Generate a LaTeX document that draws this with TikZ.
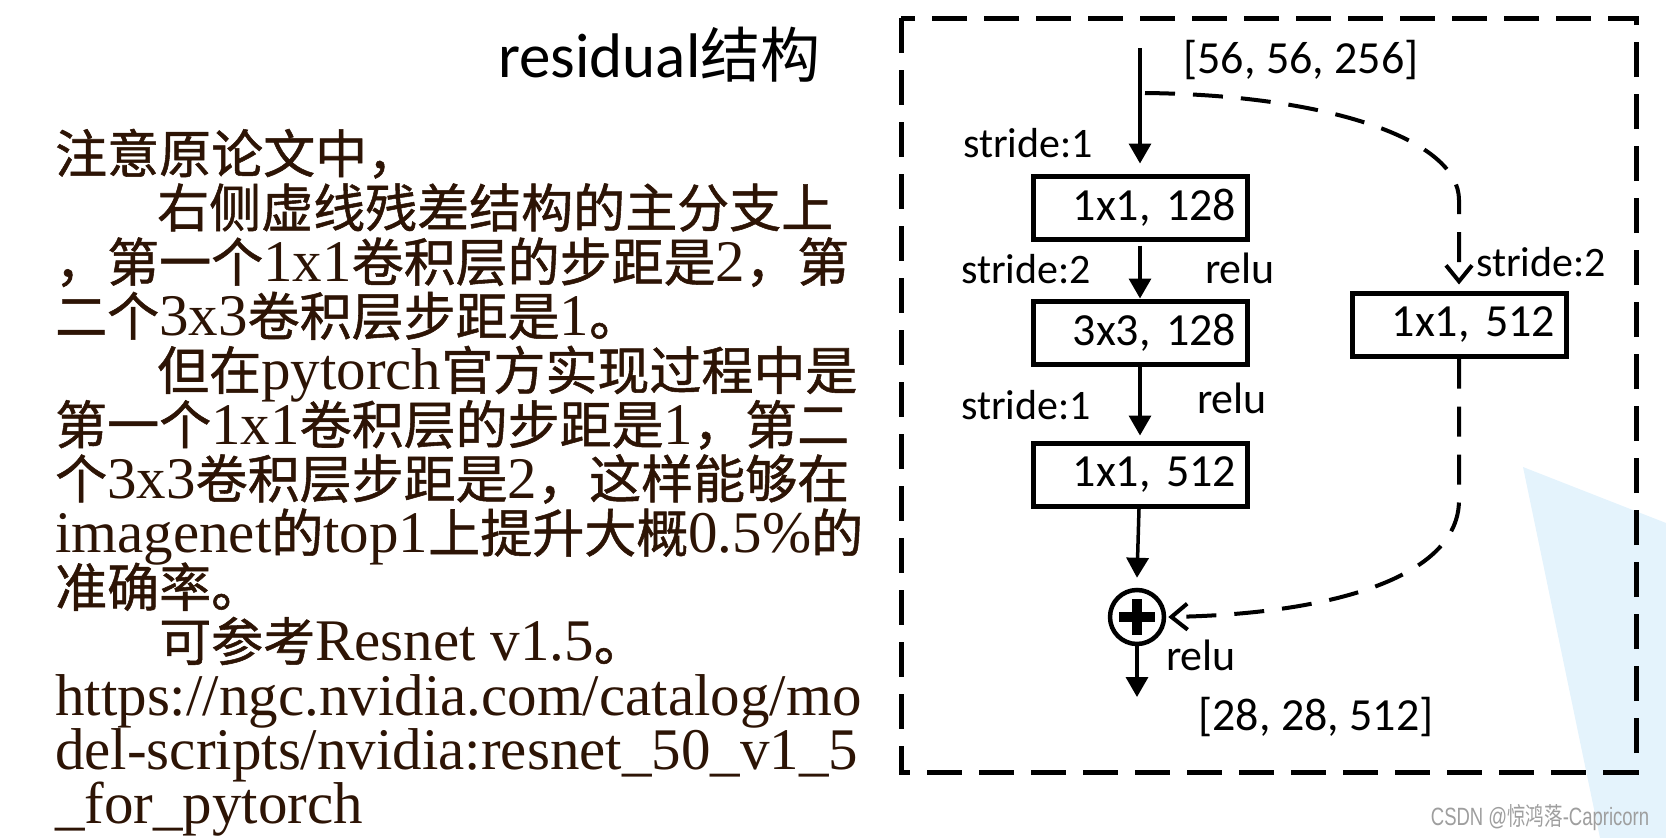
\documentclass[tikz,border=0pt]{standalone}
\usepackage{fontspec}
\setmainfont{Liberation Serif}
\newfontfamily\cjk{Noto Sans CJK SC}
\newfontfamily\cjknote[FakeBold=1]{Noto Sans CJK SC}
\newfontfamily\cali{Carlito}
\newfontfamily\arial{Liberation Sans}
\usetikzlibrary{arrows.meta, positioning}
\definecolor{inkbrown}{RGB}{45,20,5}
\definecolor{paleblue}{RGB}{228,243,252}
\newcommand{\zh}[1]{{\cjknote\fontsize{52}{54}\selectfont #1}}

\begin{document}
\begin{tikzpicture}[
	x=1pt, y=-1pt,
	font=\cali\fontsize{42}{46}\selectfont,
	>={Triangle[length=20pt,width=22pt]},
	conv/.style={draw, line width=5pt, minimum height=63pt, text width=192pt, inner xsep=11pt, align=right, font=\cali\fontsize{46}{50}\selectfont},
	flow/.style={->, line width=3.5pt},
	shortcut/.style={line width=4pt, dash pattern=on 30pt off 18pt, -{Straight Barb[length=16pt,width=26pt]}},
	dims/.style={font=\cali\fontsize{46}{50}\selectfont},
	act/.style={font=\cali\fontsize{44}{48}\selectfont},
	note/.style={anchor=base west, inner sep=0pt, text=inkbrown, font=\fontsize{59}{54}\selectfont}
	]
	
	\useasboundingbox (0,0) rectangle (1666,838);
	
	% --------------------------------------------------
	% background
	% --------------------------------------------------
	\fill[paleblue] (1523,467) -- (1666,523) -- (1666,838) -- (1600,838) -- cycle;
	
	% ==================================================
	% Left: title and notes
	% ==================================================
	\node[anchor=base west, inner sep=0pt, font=\cali\fontsize{63}{66}\selectfont] (title) at (498,77)
	{residual{\cjk\fontsize{60}{66}\selectfont 结构}};
	
	\node[note] (l1)  at (55,173)   {\zh{注意原论文中，}};
	\node[note] (l2)  at (157,227.2) {\zh{右侧虚线残差结构的主分支上}};
	\node[note] (l3)  at (55,281.4) {\zh{，第一个}1x1\zh{卷积层的步距是}2\zh{，第}};
	\node[note] (l4)  at (55,335.6) {\zh{二个}3x3\zh{卷积层步距是}1\zh{。}};
	\node[note] (l5)  at (157,389.8) {\zh{但在}pytorch\zh{官方实现过程中是}};
	\node[note] (l6)  at (55,444)   {\zh{第一个}1x1\zh{卷积层的步距是}1\zh{，第二}};
	\node[note] (l7)  at (55,498.2) {\zh{个}3x3\zh{卷积层步距是}2\zh{，这样能够在}};
	\node[note] (l8)  at (55,552.4) {imagenet\zh{的}top1\zh{上提升大概}0.5\%\zh{的}};
	\node[note] (l9)  at (55,606.6) {\zh{准确率。}};
	\node[note] (l10) at (159,660.8) {\zh{可参考}Resnet v1.5\zh{。}};
	\node[note] (l11) at (55,715)   {https://ngc.nvidia.com/catalog/mo};
	\node[note] (l12) at (55,769.2) {del-scripts/nvidia:resnet\_50\_v1\_5};
	\node[note] (l13) at (55,823.4) {\_for\_pytorch};
	
	% ==================================================
	% Right: bottleneck block with projection shortcut
	% ==================================================
	\draw[line width=5pt, dash pattern=on 35pt off 17pt] (901,18) rectangle (1636,772);
	
	\coordinate (in)    at (1140,48);
	\coordinate (split) at (1145,93);
	\coordinate (out)   at (1137,697);
	
	\node[conv] (b1)   at (1140,207.5) {1x1, 128};
	\node[conv] (b2)   at (1140,332.5) {3x3, 128};
	\node[conv] (b3)   at (1140,474.5) {1x1, 512};
	\node[conv] (side) at (1459,324.5) {1x1, 512};
	
	\node[draw, circle, line width=4.5pt, minimum size=54pt, inner sep=0pt] (add) at (1137,617) {};
	\draw[line width=10pt] ([xshift=-18pt]add.center) -- ([xshift=18pt]add.center);
	\draw[line width=10pt] ([yshift=18pt]add.center) -- ([yshift=-18pt]add.center);
	
	% main branch
	\draw[flow] (in) -- ([yshift=10pt]b1.north);
	\draw[flow] ([yshift=-4pt]b1.south) -- (b2.north);
	\draw[flow] (b2) -- ([yshift=5pt]b3.north);
	\draw[flow] (b3) -- ([yshift=10pt]add.north);
	\draw[flow] (add) -- (out);
	
	% shortcut branch
	\draw[shortcut] (split) .. controls (1330,95) and (1459,140) .. (1459,200) -- ([yshift=6pt]side.north);
	\draw[shortcut] (side) -- (1459,500) .. controls (1459,578) and (1330,614) .. ([xshift=2pt]add.east);
	
	% labels
	\node[dims] (inlbl)  at (1301,60)  {[56, 56, 256]};
	\node[dims] (outlbl) at (1316,717) {[28, 28, 512]};
	\node (s1) at (1028,143) {stride:1};
	\node (s2) at (1026,269) {stride:2};
	\node (s3) at (1026,405) {stride:1};
	\node (s4) at (1541,262) {stride:2};
	\node[act] (r1) at (1240,268) {relu};
	\node[act] (r2) at (1232,398) {relu};
	\node[act] (r3) at (1201,655) {relu};
	
	% watermark
	\node[font=\arial\fontsize{25}{28}\selectfont, text=black!38] (mark) at (1540,818)
	{\scalebox{0.74}[1]{CSDN @{\cjk 惊鸿落}-Capricorn}};
	
\end{tikzpicture}
\end{document}
